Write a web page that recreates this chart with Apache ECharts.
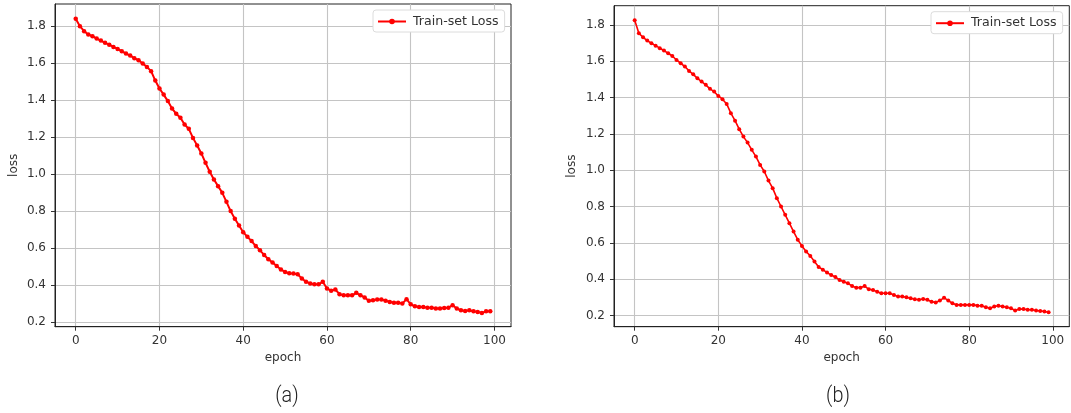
<!DOCTYPE html>
<html>
<head>
<meta charset="utf-8">
<script src="https://cdn.jsdelivr.net/npm/echarts@6/dist/echarts.min.js"></script>
<style>html,body{margin:0;padding:0;background:#fff}#c{width:1071px;height:413px}</style>
</head>
<body>
<div id="c"></div>
<script>
const seriesName = 'Train-set Loss';
const xTicks = [0, 20, 40, 60, 80, 100];
const yTicks = [0.2, 0.4, 0.6, 0.8, 1.0, 1.2, 1.4, 1.6, 1.8];
const panelLabels = ['(a)', '(b)'];
const xLabel = 'epoch';
const yLabel = 'loss';

const lossA = [
  1.840, 1.800, 1.773, 1.755, 1.746, 1.733, 1.722, 1.710, 1.700, 1.688,
  1.677, 1.665, 1.652, 1.641, 1.627, 1.616, 1.598, 1.580, 1.557, 1.506,
  1.463, 1.430, 1.395, 1.355, 1.326, 1.305, 1.268, 1.245, 1.196, 1.155,
  1.112, 1.061, 1.013, 0.971, 0.935, 0.899, 0.850, 0.800, 0.759, 0.722,
  0.686, 0.661, 0.638, 0.611, 0.588, 0.563, 0.540, 0.522, 0.503, 0.484,
  0.471, 0.464, 0.463, 0.458, 0.436, 0.418, 0.409, 0.404, 0.404, 0.418,
  0.382, 0.369, 0.376, 0.351, 0.345, 0.345, 0.345, 0.358, 0.345, 0.333,
  0.315, 0.318, 0.322, 0.322, 0.315, 0.309, 0.304, 0.304, 0.300, 0.324,
  0.296, 0.285, 0.282, 0.282, 0.278, 0.278, 0.273, 0.273, 0.276, 0.278,
  0.291, 0.273, 0.264, 0.260, 0.264, 0.258, 0.255, 0.249, 0.258, 0.258
];
const lossB = [
  1.826, 1.754, 1.732, 1.714, 1.699, 1.686, 1.672, 1.659, 1.644, 1.629,
  1.607, 1.589, 1.571, 1.547, 1.528, 1.506, 1.488, 1.470, 1.448, 1.433,
  1.409, 1.391, 1.365, 1.314, 1.273, 1.226, 1.185, 1.152, 1.112, 1.075,
  1.029, 0.993, 0.943, 0.901, 0.846, 0.800, 0.754, 0.708, 0.662, 0.617,
  0.583, 0.552, 0.528, 0.497, 0.467, 0.452, 0.436, 0.423, 0.412, 0.395,
  0.386, 0.377, 0.362, 0.353, 0.353, 0.362, 0.344, 0.340, 0.331, 0.322,
  0.322, 0.322, 0.313, 0.304, 0.304, 0.300, 0.295, 0.289, 0.286, 0.291,
  0.286, 0.276, 0.271, 0.282, 0.298, 0.282, 0.267, 0.258, 0.258, 0.258,
  0.258, 0.258, 0.254, 0.253, 0.245, 0.240, 0.249, 0.253, 0.249, 0.245,
  0.240, 0.227, 0.235, 0.235, 0.231, 0.231, 0.227, 0.225, 0.222, 0.218
];
const epochs = lossA.map((_, i) => i);

const FONT = "'DejaVu Sans', sans-serif";
const TXT = '#333';

function xAxis(gi) {
  return {
    type: 'value', gridIndex: gi, min: -4.95, max: 103.95,
    name: xLabel, nameLocation: 'middle', nameGap: 24,
    nameTextStyle: { fontFamily: FONT, fontSize: 12, color: TXT },
    axisLine: { show: true, onZero: false, lineStyle: { color: '#222', width: 1 } },
    axisTick: { show: true, length: 4, customValues: xTicks, lineStyle: { color: '#333' } },
    axisLabel: { customValues: xTicks, fontFamily: FONT, fontSize: 12, color: TXT, margin: 8,
      formatter: v => String(Math.round(v)) },
    splitLine: { show: true, lineStyle: { color: '#c4c4c4', width: 1.1 } }
  };
}
function yAxis(gi, min, max, gap) {
  return {
    type: 'value', gridIndex: gi, min: min, max: max,
    name: yLabel, nameLocation: 'middle', nameGap: gap,
    nameTextStyle: { fontFamily: FONT, fontSize: 12, color: TXT },
    axisLine: { show: true, onZero: false, lineStyle: { color: '#222', width: 1 } },
    axisTick: { show: true, length: 4, customValues: yTicks, lineStyle: { color: '#333' } },
    axisLabel: { customValues: yTicks, fontFamily: FONT, fontSize: 12, color: TXT, margin: 9,
      formatter: v => v.toFixed(1) },
    splitLine: { show: true, lineStyle: { color: '#c4c4c4', width: 1.1 } }
  };
}
function legend(left, top) {
  return {
    left: left, top: top, orient: 'vertical',
    data: [seriesName],
    itemWidth: 28, itemHeight: 7, itemGap: 4,
    padding: [5, 6, 4, 4],
    backgroundColor: '#fff', borderColor: '#dcdcdc', borderWidth: 1, borderRadius: 3,
    textStyle: { fontFamily: FONT, fontSize: 12.6, color: TXT, padding: [0, 0, 0, 2] },
    selectedMode: false
  };
}
const panelFont = "Roboto, 'DejaVu Sans', sans-serif";

const chart = echarts.init(document.getElementById('c'), null, { renderer: 'canvas' });
chart.setOption({
  animation: false,
  backgroundColor: '#fff',
  grid: [
    { left: 55, top: 4, width: 456, height: 322.7, show: true, borderColor: '#222', borderWidth: 1, backgroundColor: 'transparent' },
    { left: 614, top: 5.7, width: 455.3, height: 321, show: true, borderColor: '#222', borderWidth: 1, backgroundColor: 'transparent' }
  ],
  xAxis: [xAxis(0), xAxis(1)],
  yAxis: [yAxis(0, 0.175, 1.92, 35), yAxis(1, 0.138, 1.906, 36)],
  legend: [legend(373, 10), legend(931, 11.7)],
  series: [
    { name: seriesName, type: 'line', xAxisIndex: 0, yAxisIndex: 0,
      data: epochs.map(i => [i, lossA[i]]),
      symbol: 'circle', symbolSize: 4.5, showAllSymbol: true,
      itemStyle: { color: '#ff0000' }, lineStyle: { color: '#ff0000', width: 2 } },
    { name: seriesName, type: 'line', xAxisIndex: 1, yAxisIndex: 1,
      data: epochs.map(i => [i, lossB[i]]),
      symbol: 'circle', symbolSize: 4, showAllSymbol: true,
      itemStyle: { color: '#ff0000' }, lineStyle: { color: '#ff0000', width: 1.6 } }
  ],
  graphic: [
    { type: 'text', x: 287, y: 396, scaleX: 0.9,
      style: { text: panelLabels[0], fontFamily: panelFont, fontWeight: 300, fontSize: 22, fill: '#222', align: 'center', verticalAlign: 'middle' } },
    { type: 'text', x: 838, y: 396, scaleX: 0.9,
      style: { text: panelLabels[1], fontFamily: panelFont, fontWeight: 300, fontSize: 22, fill: '#222', align: 'center', verticalAlign: 'middle' } }
  ]
});
</script>
</body>
</html>
